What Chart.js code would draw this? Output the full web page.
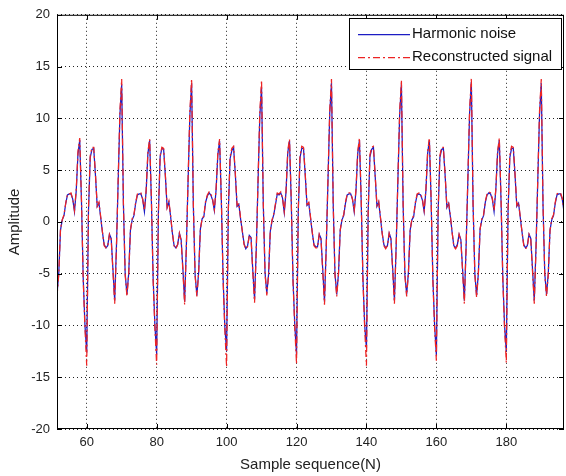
<!DOCTYPE html>
<html>
<head>
<meta charset="utf-8">
<script src="https://cdn.jsdelivr.net/npm/chart.js@4/dist/chart.umd.min.js"></script>
<style>
  html, body { margin: 0; padding: 0; background: #fff; }
  #wrap { width: 566px; height: 476px; }
</style>
</head>
<body>
<div id="wrap"><canvas id="chart" width="566" height="476"></canvas></div>
<script>
// sample axis: first sample and spacing of the read points
const startN = 51.5;
const stepN = 0.5;

const xTicks = [60, 80, 100, 120, 140, 160, 180];
const yTicks = [-20, -15, -10, -5, 0, 5, 10, 15, 20];

// values, one line per 20-sample period
const harmonicNoise = [
  -7.0, -5.0, -0.8, 0.2, 0.6, 1.8, 2.6, 2.7, 2.7, 2.2, 1.0, 3.0, 6.6, 7.9, 2.0, -5.5, -10.0,
  -12.6, 1.0, 6.2, 7.0, 7.1, 4.5, 1.5, 1.8, 0.4, -1.0, -2.2, -2.5, -2.3, -1.2, -1.6, -4.6, -7.6, -2.4, 4.0, 10.4, 13.3, 1.6, -5.0, -7.0, -5.0, -0.8, 0.2, 0.6, 1.8, 2.6, 2.7, 2.7, 2.2, 1.0, 3.0, 6.6, 7.9, 2.0, -5.5, -10.0,
  -12.8, 0.8, 6.3, 7.1, 7.0, 4.4, 1.4, 1.9, 0.5, -1.1, -2.3, -2.5, -2.2, -1.1, -1.7, -4.5, -7.7, -2.3, 4.1, 10.3, 13.4, 1.5, -5.1, -7.1, -4.9, -0.7, 0.3, 0.5, 1.9, 2.5, 2.8, 2.6, 2.1, 1.1, 3.1, 6.5, 7.8, 2.1, -5.4, -10.1,
  -12.5, 1.1, 6.1, 6.9, 7.2, 4.6, 1.5, 1.7, 0.3, -0.9, -2.1, -2.6, -2.3, -1.3, -1.5, -4.7, -7.5, -2.5, 3.9, 10.2, 13.0, 1.7, -4.9, -6.9, -5.1, -0.9, 0.1, 0.7, 1.7, 2.7, 2.6, 2.8, 2.3, 0.9, 2.9, 6.7, 7.8, 1.9, -5.6, -9.9,
  -12.8, 0.9, 6.2, 7.1, 7.1, 4.5, 1.6, 1.8, 0.4, -1.0, -2.2, -2.4, -2.4, -1.2, -1.6, -4.6, -7.7, -2.4, 4.0, 10.5, 13.4, 1.6, -5.0, -7.0, -5.0, -0.8, 0.2, 0.6, 1.8, 2.6, 2.7, 2.7, 2.2, 1.0, 3.0, 6.6, 7.9, 2.0, -5.5, -10.0,
  -12.2, 1.0, 6.3, 7.0, 7.2, 4.4, 1.5, 1.9, 0.4, -1.1, -2.2, -2.5, -2.3, -1.1, -1.6, -4.5, -7.6, -2.3, 4.1, 10.4, 13.3, 1.5, -5.1, -7.0, -4.9, -0.8, 0.2, 0.5, 1.8, 2.6, 2.7, 2.6, 2.1, 1.0, 3.0, 6.6, 7.9, 2.0, -5.5, -10.0,
  -12.9, 0.9, 6.2, 7.0, 7.1, 4.5, 1.4, 1.8, 0.5, -1.0, -2.3, -2.5, -2.2, -1.2, -1.7, -4.6, -7.6, -2.4, 4.0, 10.5, 13.5, 1.6, -5.0, -7.1, -5.0, -0.7, 0.2, 0.6, 1.9, 2.6, 2.8, 2.7, 2.2, 1.0, 3.1, 6.6, 7.9, 2.0, -5.4, -10.0,
  -12.5, 1.0, 6.2, 7.1, 7.1, 4.5, 1.5, 1.8, 0.4, -1.0, -2.2, -2.5, -2.3, -1.2, -1.6, -4.6, -7.6, -2.4, 4.0, 10.4, 13.4, 1.6, -5.0, -7.0, -5.0, -0.8, 0.2, 0.6, 1.8, 2.6, 2.7, 2.7, 2.2, 1.0
];

const reconstructedSignal = [
  -7.2, -5.1, -0.7, 0.2, 0.7, 1.8, 2.7, 2.7, 2.8, 2.2, 1.1, 3.1, 6.8, 8.1, 2.2, -5.6, -10.3,
  -13.9, 1.3, 6.4, 7.2, 7.2, 4.6, 1.5, 1.9, 0.5, -1.0, -2.3, -2.5, -2.4, -1.2, -1.7, -4.8, -7.9, -2.5, 4.2, 10.8, 13.8, 1.7, -5.1, -7.2, -5.1, -0.8, 0.3, 0.7, 1.9, 2.7, 2.8, 2.8, 2.2, 1.1, 3.1, 6.8, 8.0, 2.2, -5.7, -10.3,
  -13.8, 1.1, 6.4, 7.2, 7.1, 4.5, 1.4, 2.0, 0.6, -1.1, -2.3, -2.6, -2.2, -1.1, -1.8, -4.7, -8.0, -2.4, 4.3, 10.7, 13.8, 1.6, -5.2, -7.2, -5.0, -0.7, 0.3, 0.6, 2.0, 2.6, 2.9, 2.7, 2.2, 1.2, 3.2, 6.7, 8.0, 2.3, -5.6, -10.4,
  -14.0, 1.3, 6.3, 7.1, 7.3, 4.7, 1.6, 1.8, 0.4, -0.9, -2.2, -2.6, -2.4, -1.3, -1.6, -4.9, -7.8, -2.6, 4.1, 10.6, 13.7, 1.8, -5.0, -7.1, -5.2, -0.9, 0.2, 0.8, 1.8, 2.8, 2.7, 2.9, 2.3, 1.0, 3.0, 6.9, 8.0, 2.1, -5.8, -10.2,
  -13.7, 1.2, 6.4, 7.3, 7.2, 4.6, 1.7, 1.9, 0.5, -1.0, -2.3, -2.5, -2.5, -1.2, -1.7, -4.8, -8.0, -2.5, 4.2, 10.8, 13.8, 1.7, -5.1, -7.2, -5.1, -0.8, 0.3, 0.7, 1.9, 2.7, 2.8, 2.8, 2.2, 1.1, 3.1, 6.8, 8.1, 2.2, -5.7, -10.3,
  -13.9, 1.2, 6.5, 7.2, 7.3, 4.5, 1.6, 2.0, 0.5, -1.1, -2.3, -2.6, -2.3, -1.1, -1.7, -4.7, -7.9, -2.4, 4.3, 10.7, 13.7, 1.6, -5.2, -7.2, -5.0, -0.8, 0.3, 0.6, 1.9, 2.7, 2.8, 2.7, 2.2, 1.1, 3.1, 6.8, 8.1, 2.2, -5.7, -10.3,
  -13.4, 1.1, 6.4, 7.2, 7.2, 4.6, 1.5, 1.9, 0.6, -1.0, -2.4, -2.6, -2.3, -1.2, -1.8, -4.8, -7.9, -2.5, 4.2, 10.8, 13.9, 1.7, -5.1, -7.3, -5.1, -0.7, 0.3, 0.7, 2.0, 2.7, 2.9, 2.8, 2.3, 1.1, 3.2, 6.8, 8.1, 2.2, -5.6, -10.3,
  -13.6, 1.2, 6.4, 7.3, 7.2, 4.6, 1.6, 1.9, 0.5, -1.0, -2.3, -2.6, -2.4, -1.2, -1.7, -4.8, -7.9, -2.5, 4.2, 10.7, 13.8, 1.7, -5.1, -7.2, -5.1, -0.8, 0.3, 0.7, 1.9, 2.7, 2.8, 2.8, 2.3, 1.1
];

const sampleN = harmonicNoise.map((_, i) => startN + i * stepN);
const toPoints = vals => vals.map((v, i) => ({ x: sampleN[i], y: v }));

Chart.defaults.font.family = '"Liberation Sans", Arial, sans-serif';
Chart.defaults.color = '#222';

// matlab style box with inward ticks
const framePlugin = {
  id: 'frame',
  afterDatasetsDraw(chart) {
    const { ctx, chartArea: a, scales: { x, y } } = chart;
    ctx.save();
    ctx.strokeStyle = '#000';
    ctx.lineWidth = 1;
    ctx.strokeRect(a.left + 0.5, a.top + 0.5, a.right - a.left - 1, a.bottom - a.top - 1);
    ctx.beginPath();
    x.ticks.forEach(t => {
      const px = Math.round(x.getPixelForValue(t.value)) + 0.5;
      ctx.moveTo(px, a.bottom); ctx.lineTo(px, a.bottom - 5);
      ctx.moveTo(px, a.top); ctx.lineTo(px, a.top + 5);
    });
    y.ticks.forEach(t => {
      const py = Math.round(y.getPixelForValue(t.value)) + 0.5;
      ctx.moveTo(a.left, py); ctx.lineTo(a.left + 5, py);
      ctx.moveTo(a.right, py); ctx.lineTo(a.right - 5, py);
    });
    ctx.stroke();
    ctx.restore();
  }
};

const legendPlugin = {
  id: 'boxLegend',
  afterDraw(chart) {
    const ctx = chart.ctx;
    const bx = 349, by = 18, bw = 213, bh = 52;
    ctx.save();
    ctx.fillStyle = '#fff';
    ctx.fillRect(bx, by, bw, bh);
    ctx.strokeStyle = '#000';
    ctx.lineWidth = 1;
    ctx.strokeRect(bx + 0.5, by + 0.5, bw - 1, bh - 1);
    chart.data.datasets.forEach((ds, i) => {
      const ly = by + 15.5 + i * 23.5;
      ctx.strokeStyle = ds.borderColor;
      ctx.lineWidth = ds.borderWidth;
      ctx.setLineDash(ds.borderDash || []);
      ctx.beginPath();
      ctx.moveTo(bx + 9, Math.round(ly) + 0.5);
      ctx.lineTo(bx + 61, Math.round(ly) + 0.5);
      ctx.stroke();
      ctx.setLineDash([]);
      ctx.fillStyle = '#111';
      ctx.font = '15px "Liberation Sans", Arial, sans-serif';
      ctx.textBaseline = 'middle';
      ctx.fillText(ds.label, bx + 63, ly);
    });
    ctx.restore();
  }
};

const ctx = document.getElementById('chart').getContext('2d');
const myChart = new Chart(ctx, {
  type: 'line',
  data: {
    datasets: [{
      label: 'Harmonic noise',
      data: toPoints(harmonicNoise),
      borderColor: '#1c1cc4',
      borderWidth: 1.25,
      pointRadius: 0,
      tension: 0,
      order: 1
    }, {
      label: 'Reconstructed signal',
      data: toPoints(reconstructedSignal),
      borderColor: '#ec2424',
      borderWidth: 1.25,
      borderDash: [7, 3, 2, 3],
      pointRadius: 0,
      tension: 0,
      order: 0
    }]
  },
  options: {
    responsive: false,
    animation: false,
    devicePixelRatio: 1,
    layout: { padding: { top: 9, right: 2, bottom: 0, left: 0 } },
    plugins: { legend: { display: false }, tooltip: { enabled: false } },
    scales: {
      x: {
        type: 'linear',
        min: 51.5,
        max: 196.5,
        afterBuildTicks: s => { s.ticks = xTicks.map(v => ({ value: v })); },
        afterFit: s => { s.height = 47; },
        grid: { color: '#222', drawTicks: false },
        border: { display: false, dash: [1, 3] },
        ticks: { padding: 6, maxRotation: 0, color: '#222', font: { size: 13 } },
        title: { display: true, text: 'Sample sequence(N)', color: '#222', font: { size: 15 }, padding: { top: 0, bottom: 2 } }
      },
      y: {
        min: -20,
        max: 20,
        afterBuildTicks: s => { s.ticks = yTicks.map(v => ({ value: v })); },
        afterFit: s => { s.width = 57; },
        grid: { color: '#222', drawTicks: false },
        border: { display: false, dash: [1, 3] },
        ticks: { padding: 7, color: '#222', font: { size: 13 } },
        title: { display: true, text: 'Amplitude', color: '#222', font: { size: 15 }, padding: { top: 6, bottom: 0 } }
      }
    }
  },
  plugins: [framePlugin, legendPlugin]
});
</script>
</body>
</html>
